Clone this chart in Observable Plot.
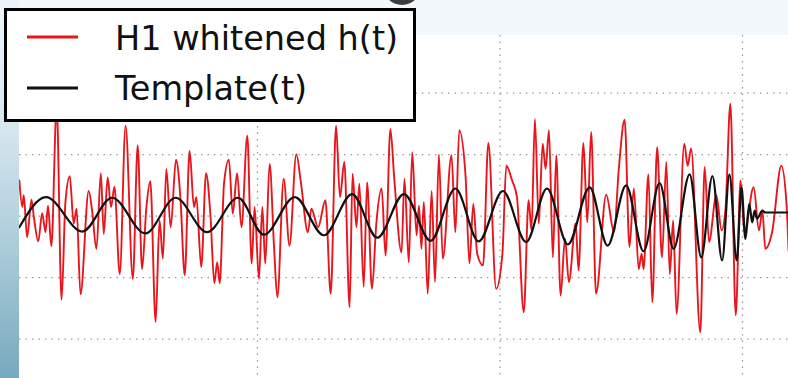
<!DOCTYPE html>
<html>
<head>
<meta charset="utf-8">
<script src="https://cdn.jsdelivr.net/npm/d3@7"></script>
<script src="https://cdn.jsdelivr.net/npm/@observablehq/plot@0.6"></script>
<style>
  html, body { margin: 0; padding: 0; background: #f3f8fc; }
  #stage { position: relative; width: 788px; height: 378px; overflow: hidden; background: #f3f8fc; font-family: "DejaVu Sans", sans-serif; }
  #strip { position: absolute; left: 0; top: 0; width: 19px; height: 378px;
    background: linear-gradient(to bottom, #eef5fa 0px, #d8e8f0 120px, #aacbd9 250px, #77a9be 378px); }
  #blob { position: absolute; left: 383px; top: -33px; width: 38px; height: 38px; border-radius: 50%; background: #3c3c3c; }
  #chart { position: absolute; left: 19px; top: 35px; }
  #legend { position: absolute; left: 0; top: 0; }
</style>
</head>
<body>
<div id="stage">
  <div id="strip"></div>
  <div id="blob"></div>
  <div id="chart"></div>
  <svg id="legend" width="788" height="378"></svg>
</div>
<script>
// ---- data (time in ms relative to the last grid line, whitened strain in grid units) ----
const redT = [-149.1,-148.5,-148.2,-147.5,-146.6,-146.1,-145.2,-144.4,-143.7,-143.2,-142.5,-141.4,-140.4,-139.6,-138.7,-137.9,-137.3,-136.5,-134.8,-134.1,-133.2,-132.3,-131.7,-130.9,-130.2,-129.5,-128.4,-127.2,-125.7,-124.7,-123.8,-122.9,
  -122.1,-121.0,-120.2,-119.5,-118.8,-117.9,-116.8,-115.9,-115.0,-114.0,-113.1,-112.6,-111.6,-110.6,-109.7,-108.9,-108.3,-107.8,-106.9,-105.9,-105.1,-104.2,-103.3,-102.1,-101.2,-100.6,-99.7,-99.0,-98.4,-97.5,-96.6,-95.9,
  -94.6,-93.4,-92.0,-91.1,-89.6,-88.9,-87.5,-86.0,-84.9,-83.8,-83.0,-82.1,-81.0,-80.4,-79.6,-79.0,-78.1,-77.4,-76.4,-75.5,-74.4,-73.6,-72.6,-71.8,-70.3,-69.7,
  -68.8,-68.1,-67.2,-66.7,-66.2,-65.7,-64.9,-64.1,-63.4,-62.6,-61.8,-60.0,-59.2,-58.4,-57.1,-56.3,-55.5,-54.7,-53.5,-52.4,-50.8,-49.5,-48.7,-47.5,-46.5,-45.1,-44.1,-43.5,-42.8,-42.0,
  -41.2,-40.6,-39.9,-39.1,-38.4,-37.5,-36.6,-35.8,-34.4,-33.8,-32.8,-32.0,-31.2,-30.2,-28.1,-26.5,-25.5,-24.3,-23.3,-22.4,-21.4,-20.8,-20.4,-19.4,-18.6,-17.6,-16.6,-15.7,-15.0,
  -14.3,-13.6,-12.0,-11.3,-10.6,-8.7,-7.8,-6.9,-5.4,-4.3,-3.5,-2.5,-1.4,-0.4,0.4,2.3,3.4,4.1,4.7,6.1,8.0,9.1,9.5];
const redV = [0.58,0.15,0.34,-0.34,0.27,-0.02,-0.41,0.05,-0.26,0.17,-0.49,1.80,-1.36,0.23,0.65,-0.12,0.12,-1.27,0.41,0.09,-0.53,0.70,-0.29,0.63,0.15,0.48,-0.94,1.47,-1.02,1.15,-0.86,0.15,
  0.57,-1.72,-0.07,-0.69,0.77,-0.18,0.92,0.31,-0.96,1.06,0.15,0.31,-0.83,0.70,0.01,-1.09,-0.75,-1.09,0.53,0.92,0.04,0.70,-0.18,1.31,-0.77,0.15,-1.02,0.15,-0.77,0.85,-0.48,-1.32,
  0.61,-0.48,1.01,0.58,-0.26,0.12,-0.18,0.26,-1.26,1.47,0.31,0.88,-1.48,0.69,-0.18,0.53,-1.15,0.55,-1.18,-0.12,0.45,-0.64,1.42,0.61,-0.59,0.61,
  -0.75,1.04,-0.31,0.17,-0.53,0.23,-1.26,0.41,-1.07,1.00,-0.69,0.99,-0.26,1.40,0.65,-0.77,0.20,-0.61,-0.80,1.19,-1.18,-0.61,0.82,0.58,0.31,-1.56,0.26,-0.23,1.58,-0.12,
  1.18,0.77,1.40,-0.67,0.99,-1.29,-0.36,-1.07,-0.12,-0.88,1.19,-0.10,1.37,-1.26,0.35,-0.26,0.77,1.57,-0.50,0.45,-0.86,-0.61,-0.86,0.68,-1.40,1.12,-0.67,0.88,-0.94,
  -0.07,-1.59,1.18,0.82,1.10,-1.89,0.80,-0.42,0.34,-0.23,0.12,1.83,-1.61,0.58,-0.26,0.47,-0.23,0.09,-0.53,-0.26,0.82,0.17,-0.56];

const tmplT = [-149.1,-143.6,-136.1,-130.0,-123.1,-116.9,-110.4,-104.0,-98.7,-92.3,-86.3,-80.5,-75.3,-69.8,-64.3,-59.2,-54.4,-49.4,-44.6,-40.3,-36.0,-31.5,-27.8,-24.0,-20.4,-17.1,-14.2,-10.9,-8.5,-6.2,-4.2,-2.7,-1.2,-0.2,0.6,1.4,2.0,2.5,3.0,4.1,4.7,9.5];
const tmplV = [-0.18,0.31,-0.25,0.30,-0.28,0.30,-0.26,0.30,-0.30,0.31,-0.31,0.36,-0.35,0.36,-0.40,0.45,-0.41,0.41,-0.42,0.45,-0.46,0.47,-0.48,0.50,-0.57,0.54,-0.53,0.68,-0.67,0.65,-0.72,0.68,-0.72,0.47,-0.37,0.20,-0.10,0.09,-0.04,0.09,0.06,0.06];

const gridT = [-100, -50, 0];
const gridV = [-2, -1, 0, 1, 2];

const legendLabels = ["H1 whitened h(t)", "Template(t)"];
const legendColors = ["#e8161c", "#111111"];

// ---- build ----
const red = redT.map((t, i) => ({t, v: redV[i]}));
const tmpl = tmplT.map((t, i) => ({t, v: tmplV[i]}));

const chart = Plot.plot({
  width: 769,
  height: 343,
  marginTop: 0, marginRight: 0, marginBottom: 0, marginLeft: 0,
  x: {domain: [-149.07, 9.485], axis: null},
  y: {domain: [-2.639, 2.938], axis: null},
  style: {background: "white"},
  marks: [
    Plot.ruleY(gridV, {stroke: "#808080", strokeWidth: 1.2, strokeDasharray: "1.4,5.1", strokeOpacity: 0.85}),
    Plot.ruleX(gridT, {stroke: "#808080", strokeWidth: 1.2, strokeDasharray: "1.4,5.1", strokeOpacity: 0.85}),
    Plot.line(red, {x: "t", y: "v", stroke: legendColors[0], strokeWidth: 1.9, curve: "monotone-x", clip: true}),
    Plot.line(tmpl, {x: "t", y: "v", stroke: legendColors[1], strokeWidth: 2.2, curve: "monotone-x", clip: true})
  ]
});
document.getElementById("chart").appendChild(chart);

// legend box overlay
const lg = d3.select("#legend");
lg.append("rect").attr("x", 5.5).attr("y", 9.5).attr("width", 409).attr("height", 111)
  .attr("fill", "white").attr("stroke", "black").attr("stroke-width", 3);
const rowsY = [37, 88];
const baseY = [50, 100];
legendLabels.forEach((label, i) => {
  lg.append("line").attr("x1", 27).attr("x2", 78).attr("y1", rowsY[i]).attr("y2", rowsY[i])
    .attr("stroke", legendColors[i]).attr("stroke-width", 2.8);
  lg.append("text").attr("x", 115).attr("y", baseY[i]).text(label)
    .attr("font-family", "DejaVu Sans").attr("font-size", 33.5).attr("fill", "#111");
});
</script>
</body>
</html>
